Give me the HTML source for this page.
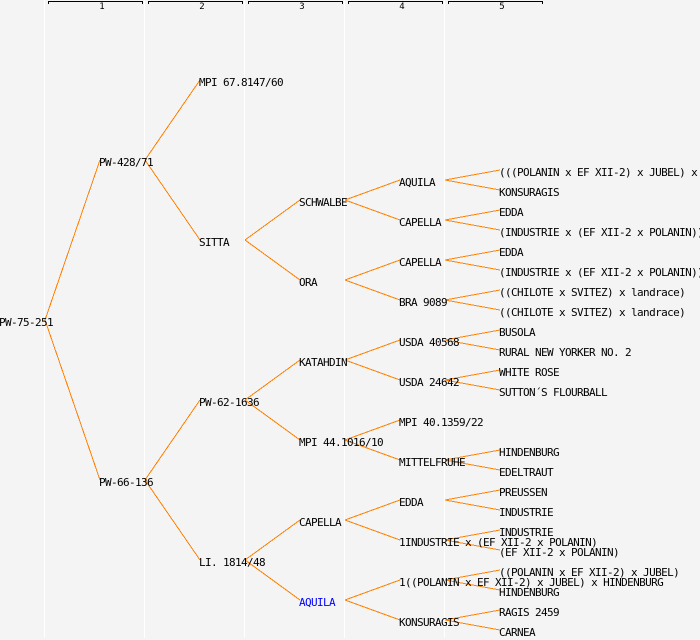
<!DOCTYPE html>
<html>
<head>
<meta charset="utf-8">
<style>
html,body{margin:0;padding:0;background:#f4f4f4;width:700px;height:640px;overflow:hidden}
svg{display:block}
.e line{stroke:#ff8000;stroke-width:1;shape-rendering:crispEdges}
.g line{stroke:#ffffff;stroke-width:1;shape-rendering:crispEdges}
.b path{stroke:#000;stroke-width:1;fill:none;shape-rendering:crispEdges}
.t text{font-family:"DejaVu Sans Mono","Liberation Mono",monospace;font-size:11px;letter-spacing:-0.62px;fill:#000;white-space:pre}
.n text{font-family:"DejaVu Sans Mono","Liberation Mono",monospace;font-size:9px;fill:#000;text-anchor:middle}
</style>
</head>
<body>
<svg width="700" height="640" viewBox="0 0 700 640" xmlns="http://www.w3.org/2000/svg">
<rect width="700" height="640" fill="#f4f4f4"/>
<g class="g">
<line x1="44.5" y1="0" x2="44.5" y2="638"/>
<line x1="144.5" y1="0" x2="144.5" y2="638"/>
<line x1="244.5" y1="0" x2="244.5" y2="638"/>
<line x1="344.5" y1="0" x2="344.5" y2="638"/>
<line x1="444.5" y1="0" x2="444.5" y2="638"/>
</g>
<g class="b">
<path d="M48.5 4V1.5H142.5V4"/>
<path d="M148.5 4V1.5H242.5V4"/>
<path d="M248.5 4V1.5H342.5V4"/>
<path d="M348.5 4V1.5H442.5V4"/>
<path d="M448.5 4V1.5H542.5V4"/>
</g>
<g class="n">
<text x="102" y="9">1</text>
<text x="202" y="9">2</text>
<text x="302" y="9">3</text>
<text x="402" y="9">4</text>
<text x="502" y="9">5</text>
</g>
<g class="e">
<line x1="45" y1="320" x2="100" y2="160"/>
<line x1="45" y1="320" x2="100" y2="480"/>
<line x1="145" y1="160" x2="200" y2="80"/>
<line x1="145" y1="160" x2="200" y2="240"/>
<line x1="145" y1="480" x2="200" y2="400"/>
<line x1="145" y1="480" x2="200" y2="560"/>
<line x1="245" y1="240" x2="300" y2="200"/>
<line x1="245" y1="240" x2="300" y2="280"/>
<line x1="245" y1="400" x2="300" y2="360"/>
<line x1="245" y1="400" x2="300" y2="440"/>
<line x1="245" y1="560" x2="300" y2="520"/>
<line x1="245" y1="560" x2="300" y2="600"/>
<line x1="345" y1="200" x2="400" y2="180"/>
<line x1="345" y1="200" x2="400" y2="220"/>
<line x1="345" y1="280" x2="400" y2="260"/>
<line x1="345" y1="280" x2="400" y2="300"/>
<line x1="345" y1="360" x2="400" y2="340"/>
<line x1="345" y1="360" x2="400" y2="380"/>
<line x1="345" y1="440" x2="400" y2="420"/>
<line x1="345" y1="440" x2="400" y2="460"/>
<line x1="345" y1="520" x2="400" y2="500"/>
<line x1="345" y1="520" x2="400" y2="540"/>
<line x1="345" y1="600" x2="400" y2="580"/>
<line x1="345" y1="600" x2="400" y2="620"/>
<line x1="445" y1="180" x2="500" y2="170"/>
<line x1="445" y1="180" x2="500" y2="190"/>
<line x1="445" y1="220" x2="500" y2="210"/>
<line x1="445" y1="220" x2="500" y2="230"/>
<line x1="445" y1="260" x2="500" y2="250"/>
<line x1="445" y1="260" x2="500" y2="270"/>
<line x1="445" y1="300" x2="500" y2="290"/>
<line x1="445" y1="300" x2="500" y2="310"/>
<line x1="445" y1="340" x2="500" y2="330"/>
<line x1="445" y1="340" x2="500" y2="350"/>
<line x1="445" y1="380" x2="500" y2="370"/>
<line x1="445" y1="380" x2="500" y2="390"/>
<line x1="445" y1="460" x2="500" y2="450"/>
<line x1="445" y1="460" x2="500" y2="470"/>
<line x1="445" y1="500" x2="500" y2="490"/>
<line x1="445" y1="500" x2="500" y2="510"/>
<line x1="445" y1="540" x2="500" y2="530"/>
<line x1="445" y1="540" x2="500" y2="550"/>
<line x1="445" y1="580" x2="500" y2="570"/>
<line x1="445" y1="580" x2="500" y2="590"/>
<line x1="445" y1="620" x2="500" y2="610"/>
<line x1="445" y1="620" x2="500" y2="630"/>
</g>
<g class="t">
<text x="-1" y="326">PW-75-251</text>
<text x="99" y="166">PW-428/71</text>
<text x="99" y="486">PW-66-136</text>
<text x="199" y="86">MPI 67.8147/60</text>
<text x="199" y="246">SITTA</text>
<text x="199" y="406">PW-62-1636</text>
<text x="199" y="566">LI. 1814/48</text>
<text x="299" y="206">SCHWALBE</text>
<text x="299" y="286">ORA</text>
<text x="299" y="366">KATAHDIN</text>
<text x="299" y="446">MPI 44.1016/10</text>
<text x="299" y="526">CAPELLA</text>
<text x="299" y="606" style="fill:#0000ff">AQUILA</text>
<text x="399" y="186">AQUILA</text>
<text x="399" y="226">CAPELLA</text>
<text x="399" y="266">CAPELLA</text>
<text x="399" y="306">BRA 9089</text>
<text x="399" y="346">USDA 40568</text>
<text x="399" y="386">USDA 24642</text>
<text x="399" y="426">MPI 40.1359/22</text>
<text x="399" y="466">MITTELFRUHE</text>
<text x="399" y="506">EDDA</text>
<text x="399" y="546">1INDUSTRIE x (EF XII-2 x POLANIN)</text>
<text x="399" y="586">1((POLANIN x EF XII-2) x JUBEL) x HINDENBURG</text>
<text x="399" y="626">KONSURAGIS</text>
<text x="499" y="176">(((POLANIN x EF XII-2) x JUBEL) x HINDENBURG)</text>
<text x="499" y="196">KONSURAGIS</text>
<text x="499" y="216">EDDA</text>
<text x="499" y="236">(INDUSTRIE x (EF XII-2 x POLANIN))</text>
<text x="499" y="256">EDDA</text>
<text x="499" y="276">(INDUSTRIE x (EF XII-2 x POLANIN))</text>
<text x="499" y="296">((CHILOTE x SVITEZ) x landrace)</text>
<text x="499" y="316">((CHILOTE x SVITEZ) x landrace)</text>
<text x="499" y="336">BUSOLA</text>
<text x="499" y="356">RURAL NEW YORKER NO. 2</text>
<text x="499" y="376">WHITE ROSE</text>
<text x="499" y="396">SUTTON´S FLOURBALL</text>
<text x="499" y="456">HINDENBURG</text>
<text x="499" y="476">EDELTRAUT</text>
<text x="499" y="496">PREUSSEN</text>
<text x="499" y="516">INDUSTRIE</text>
<text x="499" y="536">INDUSTRIE</text>
<text x="499" y="556">(EF XII-2 x POLANIN)</text>
<text x="499" y="576">((POLANIN x EF XII-2) x JUBEL)</text>
<text x="499" y="596">HINDENBURG</text>
<text x="499" y="616">RAGIS 2459</text>
<text x="499" y="636">CARNEA</text>
</g>
</svg>
</body>
</html>
